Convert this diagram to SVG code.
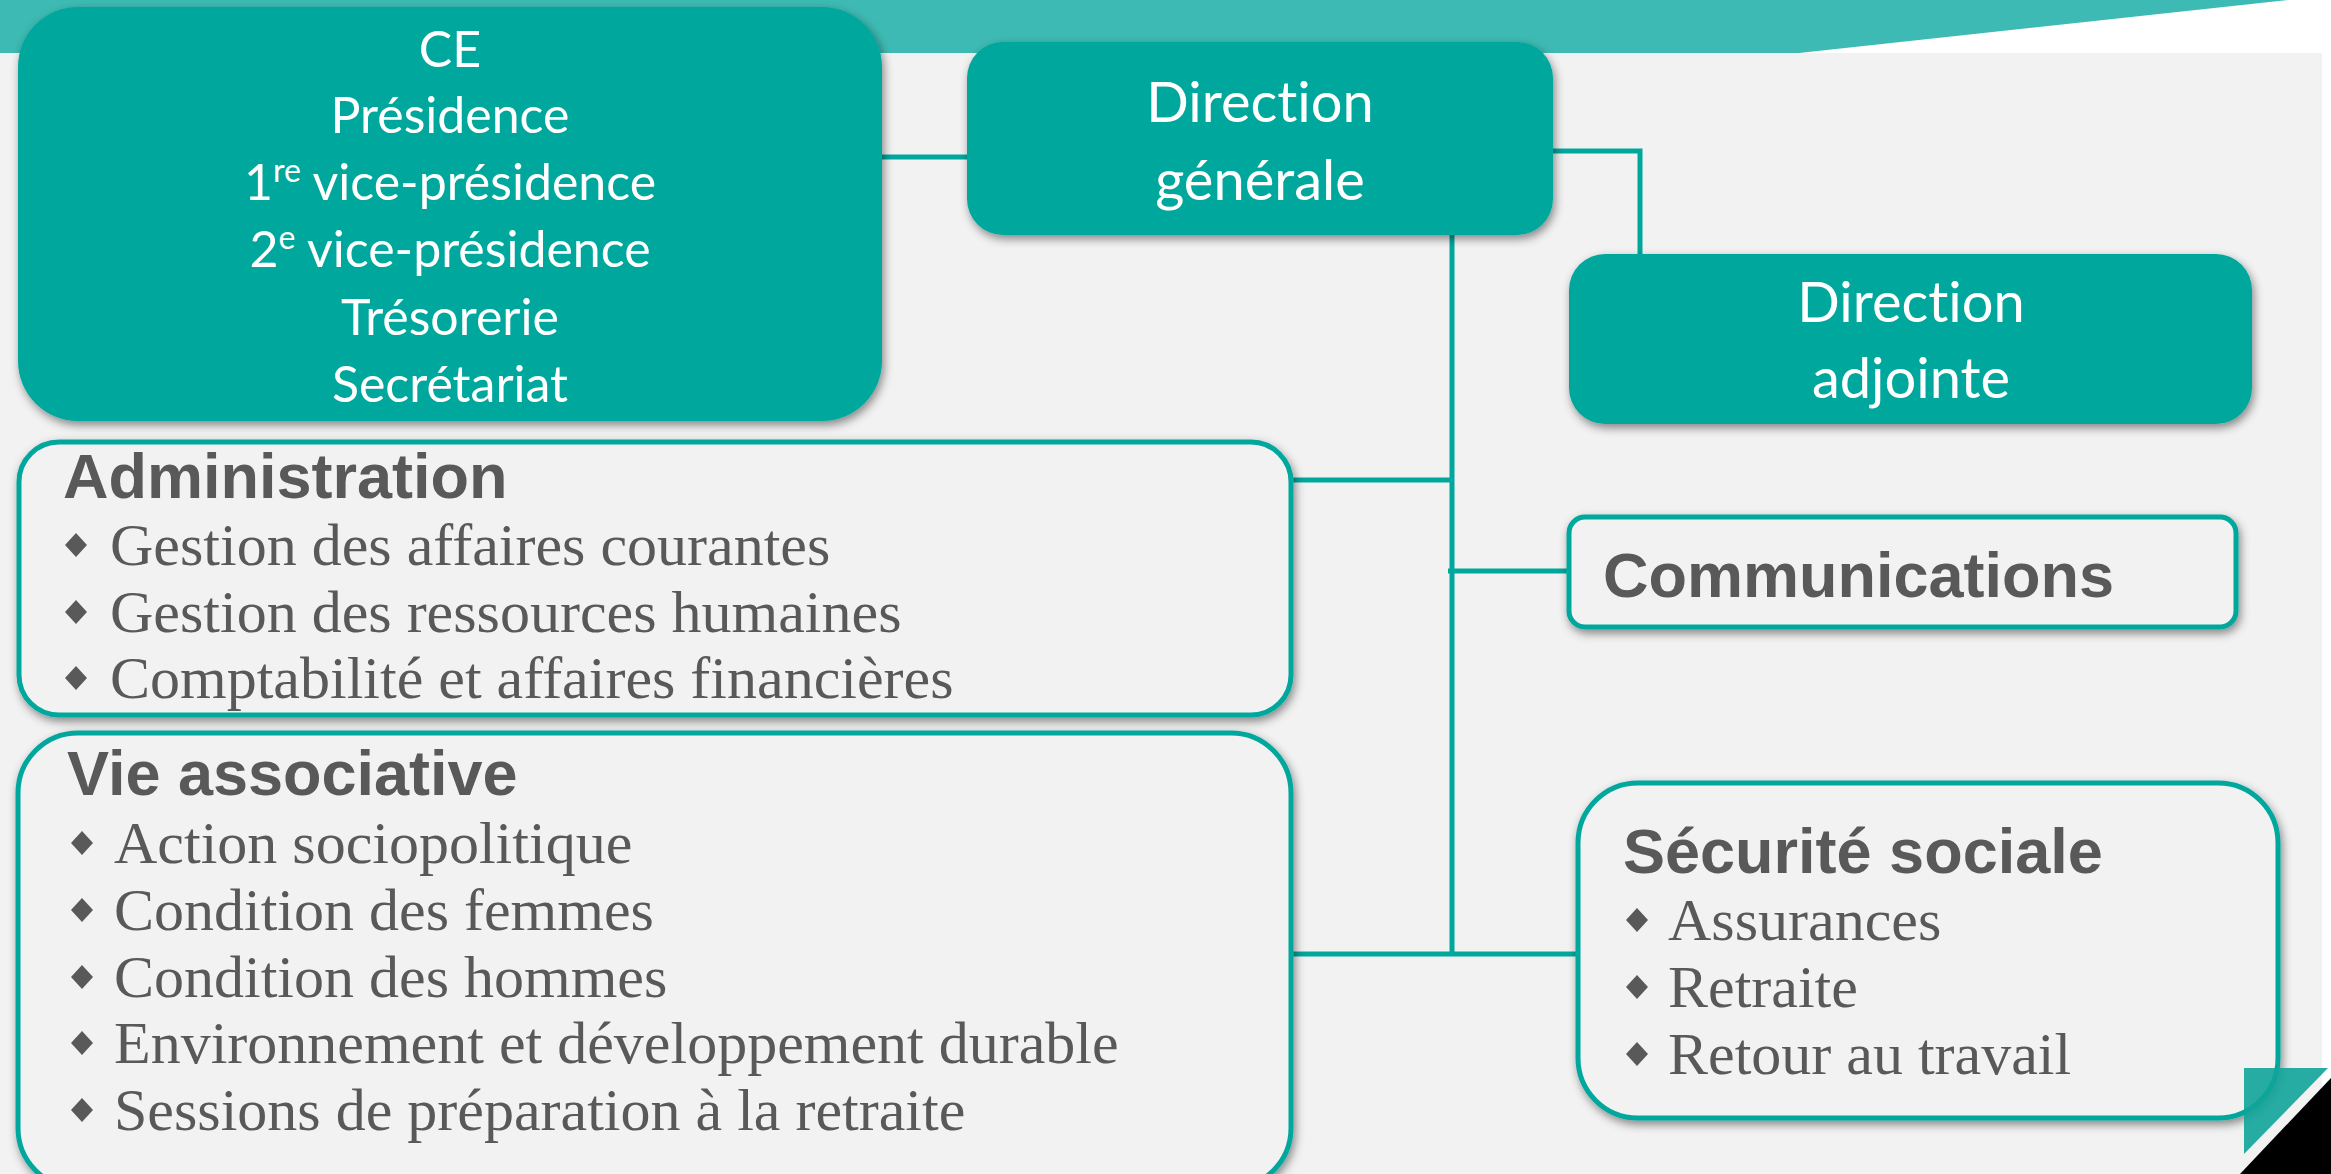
<svg xmlns="http://www.w3.org/2000/svg" width="2331" height="1174" viewBox="0 0 2331 1174">
<defs>
<filter id="sh" x="-10%" y="-10%" width="120%" height="125%">
<feDropShadow dx="2" dy="4" stdDeviation="5" flood-color="#000" flood-opacity="0.45"/>
</filter>
<polygon id="dia" points="0,-12 11,0 0,12 -11,0" fill="#595959"/>
</defs>
<style>
.teal{fill:#00a79d;filter:url(#sh)}
.wbox{fill:#f2f2f2;stroke:#00a79d;stroke-width:5;filter:url(#sh)}
.wt{font-family:Lato,"Open Sans",sans-serif;fill:#ffffff;text-anchor:middle;font-variant-ligatures:none}
.ttl{font-family:"Liberation Sans",Arial,sans-serif;font-weight:bold;font-size:63px;fill:#595959}
.itm{font-family:"Liberation Serif","Times New Roman",serif;font-size:60px;fill:#595959}
.con{fill:none;stroke:#00a79d;stroke-width:5}
</style>
<rect width="2331" height="1174" fill="#ffffff"/>
<rect x="0" y="53" width="2322" height="1121" fill="#f2f2f2"/>
<polygon points="0,0 2289,0 1799,53 0,53" fill="#3dbab3"/>

<g id="connectors">
<path class="con" d="M882,157 H967"/>
<path class="con" d="M1553,151 H1640 V254"/>
<path class="con" d="M1452,235 V954"/>
<path class="con" d="M1290,480 H1452"/>
<path class="con" d="M1448,571 H1569"/>
<path class="con" d="M1290,954 H1578"/>
</g>

<g id="ce">
<rect class="teal" x="18" y="7" width="864" height="414" rx="60"/>
<text class="wt" font-size="50"><tspan x="450" y="67">CE</tspan><tspan x="450" y="133">Présidence</tspan></text>
<text class="wt" font-size="50" x="450" y="200">1<tspan font-size="32" dy="-18">re</tspan><tspan dy="18"> vice-présidence</tspan></text>
<text class="wt" font-size="50" x="450" y="267">2<tspan font-size="32" dy="-18">e</tspan><tspan dy="18"> vice-présidence</tspan></text>
<text class="wt" font-size="50"><tspan x="450" y="335">Trésorerie</tspan><tspan x="450" y="402">Secrétariat</tspan></text>
</g>

<g id="dg">
<rect class="teal" x="967" y="42" width="586" height="193" rx="36"/>
<text class="wt" font-size="56"><tspan x="1260" y="122">Direction</tspan><tspan x="1260" y="200">générale</tspan></text>
</g>

<g id="da">
<rect class="teal" x="1569" y="254" width="683" height="170" rx="36"/>
<text class="wt" font-size="56"><tspan x="1911" y="322">Direction</tspan><tspan x="1911" y="398">adjointe</tspan></text>
</g>

<g id="comm">
<rect class="wbox" x="1569" y="517" width="667" height="110" rx="16"/>
<text class="ttl" x="1603" y="597">Communications</text>
</g>

<g id="admin">
<rect class="wbox" x="19" y="442" width="1272" height="273" rx="40"/>
<text class="ttl" x="63" y="498">Administration</text>
<use href="#dia" x="76" y="545"/>
<use href="#dia" x="76" y="612"/>
<use href="#dia" x="76" y="678"/>
<text class="itm"><tspan x="110" y="565">Gestion des affaires courantes</tspan><tspan x="110" y="632">Gestion des ressources humaines</tspan><tspan x="110" y="698">Comptabilité et affaires financières</tspan></text>
</g>

<g id="vie">
<rect class="wbox" x="18" y="733" width="1273" height="455" rx="60"/>
<text class="ttl" x="67" y="795">Vie associative</text>
<use href="#dia" x="82" y="843"/>
<use href="#dia" x="82" y="910"/>
<use href="#dia" x="82" y="977"/>
<use href="#dia" x="82" y="1043"/>
<use href="#dia" x="82" y="1110"/>
<text class="itm"><tspan x="114" y="863">Action sociopolitique</tspan><tspan x="114" y="930">Condition des femmes</tspan><tspan x="114" y="997">Condition des hommes</tspan><tspan x="114" y="1063">Environnement et développement durable</tspan><tspan x="114" y="1130">Sessions de préparation à la retraite</tspan></text>
</g>

<g id="secu">
<rect class="wbox" x="1578" y="783" width="700" height="335" rx="60"/>
<text class="ttl" x="1623" y="873">Sécurité sociale</text>
<use href="#dia" x="1637" y="920"/>
<use href="#dia" x="1637" y="987"/>
<use href="#dia" x="1637" y="1054"/>
<text class="itm"><tspan x="1668" y="940">Assurances</tspan><tspan x="1668" y="1007">Retraite</tspan><tspan x="1668" y="1074">Retour au travail</tspan></text>
</g>

<polygon points="2244,1068 2328,1068 2244,1154" fill="#0fa499" opacity="0.9"/>
<polygon points="2331,1078 2331,1174 2240,1174" fill="#000000"/>
</svg>
